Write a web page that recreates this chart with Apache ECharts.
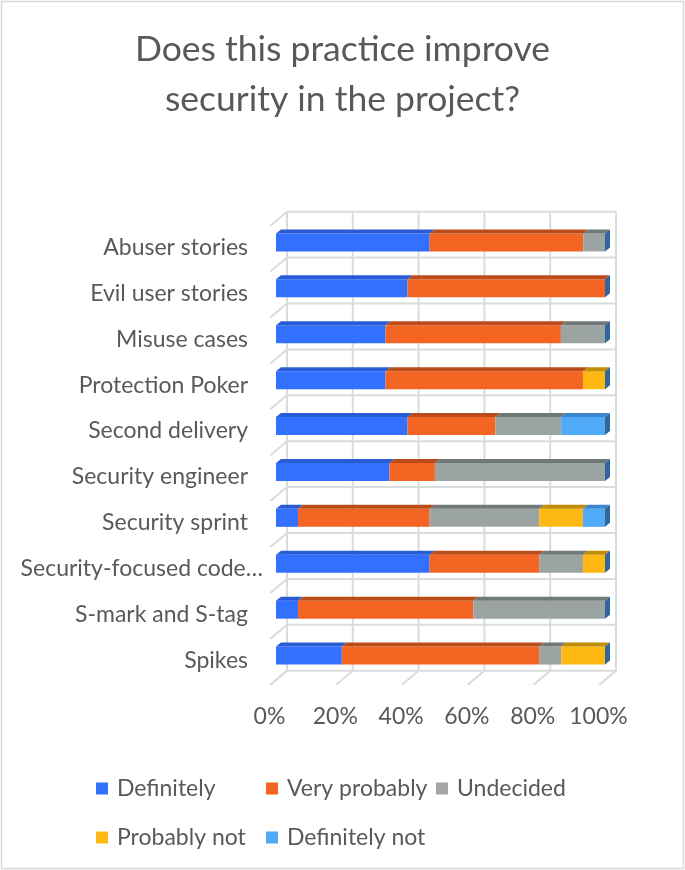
<!DOCTYPE html>
<html>
<head>
<meta charset="utf-8">
<script src="https://cdn.jsdelivr.net/npm/echarts@6/dist/echarts.min.js"></script>
<style>html,body{margin:0;padding:0;background:#fff;}#c{width:685px;height:870px;}</style>
</head>
<body>
<div id="c"></div>
<script>
// ---- data ----
const categories = ['Abuser stories','Evil user stories','Misuse cases','Protection Poker','Second delivery','Security engineer','Security sprint','Security-focused code…','S-mark and S-tag','Spikes'];
const seriesNames = ['Definitely','Very probably','Undecided','Probably not','Definitely not'];
const definitely    = [46.7, 40.0, 33.3, 33.3, 40.0, 34.5,  6.7, 46.7,  6.7, 20.0];
const veryProbably  = [46.7, 60.0, 53.3, 60.0, 26.7, 13.8, 40.0, 33.3, 53.3, 60.0];
const undecided     = [ 6.6,  0.0, 13.4,  0.0, 20.0, 51.7, 33.3, 13.3, 40.0,  6.7];
const probablyNot   = [ 0.0,  0.0,  0.0,  6.7,  0.0,  0.0, 13.3,  6.7,  0.0, 13.3];
const definitelyNot = [ 0.0,  0.0,  0.0,  0.0, 13.3,  0.0,  6.7,  0.0,  0.0,  0.0];
const tickValues = [0, 20, 40, 60, 80, 100];

// ---- styles ----
const FONT = 'Lato';
const TXT = '#595959';
const frontColors = ['#3370FF','#F46524','#9BA4A2','#FDB813','#4FAAF7'];
const topColors   = ['#2A5BD6','#BA4C19','#6F7977','#C18C00','#3A86CC'];
const legendColors = ['#3370FF','#F46524','#A5A5A5','#FDB813','#4FAAF7'];
const capColor = '#2F679B';
const gridColor = '#D8DDDB';
const BX = 11, BY = -7.8;      // back plane offset from bar front
const WX = -16.7, WY = 14;     // wall / floor depth
const TDX = 5, TDY = 4;        // bar top depth

const allSeries = [definitely, veryProbably, undecided, probablyNot, definitelyNot];

const chart = echarts.init(document.getElementById('c'), null, {renderer: 'canvas'});

const barSeries = seriesNames.map((n, s) => ({
  name: n, type: 'bar', stack: 'total', barWidth: 18,
  data: allSeries[s], itemStyle: {color: frontColors[s]}, z: 3,
  emphasis: {disabled: true}, animation: false
}));

const decor = {
  type: 'custom', name: 'decor', z: 1, silent: true, animation: false,
  data: [[0, 0]],
  renderItem: function (params, api) {
    const band = api.size([0, 1])[1];
    const c0 = api.coord([0, 0]);
    const topFront = c0[1] - band / 2;
    const x0 = api.coord([0, 0])[0] + BX;
    const x1 = api.coord([100, 0])[0] + BX;
    const topBack = topFront + BY;
    const botBack = topBack + band * categories.length;
    const ch = [];
    const st = {stroke: gridColor, lineWidth: 2, fill: null};
    for (let k = 0; k <= categories.length; k++) {
      const yb = topBack + k * band;
      ch.push({type: 'line', shape: {x1: x0, y1: yb, x2: x1, y2: yb}, style: st});
      ch.push({type: 'line', shape: {x1: x0, y1: yb, x2: x0 + WX, y2: yb + WY}, style: st});
    }
    tickValues.forEach(t => {
      const x = api.coord([t, 0])[0] + BX;
      ch.push({type: 'line', shape: {x1: x, y1: topBack, x2: x, y2: botBack}, style: st});
      ch.push({type: 'line', shape: {x1: x, y1: botBack, x2: x + WX, y2: botBack + WY}, style: st});
    });
    return {type: 'group', children: ch};
  }
};

const tops = {
  type: 'custom', name: 'tops', z: 4, silent: true, animation: false,
  data: categories.map((c, i) => [0, i]),
  renderItem: function (params, api) {
    const i = api.value(1);
    const barH = 18;
    let cum = 0;
    const ch = [];
    let yt = 0;
    allSeries.forEach((arr, s) => {
      const v = arr[i];
      const p0 = api.coord([cum, i]);
      yt = p0[1] - barH / 2;
      if (v > 0) {
        const p1 = api.coord([cum + v, i]);
        ch.push({type: 'polygon', shape: {points: [[p0[0], yt], [p1[0], yt], [p1[0] + TDX, yt - TDY], [p0[0] + TDX, yt - TDY]]}, style: {fill: topColors[s]}});
        cum += v;
      }
    });
    const pe = api.coord([cum, i]);
    ch.push({type: 'polygon', shape: {points: [[pe[0], yt], [pe[0] + TDX, yt - TDY], [pe[0] + TDX, yt + barH - TDY], [pe[0], yt + barH]]}, style: {fill: capColor}});
    return {type: 'group', children: ch};
  }
};

const legendPos = [[91, 772], [261, 772], [431, 772], [91, 821], [261, 821]];
const legends = seriesNames.map((n, s) => ({
  left: legendPos[s][0], top: legendPos[s][1],
  data: [{name: n, itemStyle: {color: legendColors[s]}}],
  icon: 'rect', itemWidth: 12, itemHeight: 12, selectedMode: false,
  textStyle: {fontFamily: FONT, fontSize: 23, color: TXT, lineHeight: 23, padding: [0, 0, 0, 4]}
}));

chart.setOption({
  backgroundColor: '#ffffff',
  animation: false,
  title: {
    text: 'Does this practice improve\nsecurity in the project?',
    left: 'center', top: 20,
    textStyle: {fontFamily: FONT, fontSize: 35.5, fontWeight: 'normal', color: TXT, lineHeight: 50}
  },
  legend: legends,
  grid: [
    {left: 276, right: 80, top: 219.5, bottom: 191.5, containLabel: false},
    {left: 276, right: 80, top: 224.5, bottom: 186.5, containLabel: false}
  ],
  xAxis: [{
    type: 'value', min: 0, max: 100, interval: 20, gridIndex: 0,
    axisLine: {show: false}, axisTick: {show: false}, splitLine: {show: false},
    axisLabel: {formatter: '{value}%', fontFamily: FONT, fontSize: 23, color: TXT, margin: 27, padding: [0, 13, 0, 0]}
  }, {
    type: 'value', min: 0, max: 100, gridIndex: 1, show: false
  }],
  yAxis: [{
    type: 'category', data: categories, inverse: true, gridIndex: 0,
    axisLine: {show: false}, axisTick: {show: false}, splitLine: {show: false},
    axisLabel: {show: false}
  }, {
    type: 'category', data: categories, inverse: true, gridIndex: 1,
    axisLine: {show: false}, axisTick: {show: false}, splitLine: {show: false},
    axisLabel: {
      fontFamily: FONT, fontSize: 23, color: TXT, margin: 28,
      formatter: function (v) { return v === categories[7] ? '{s|' + v + '}' : v; },
      rich: {s: {fontFamily: FONT, fontSize: 23, color: TXT, padding: [0, -15, 0, 0]}}
    }
  }],
  graphic: [{
    type: 'rect', shape: {x: 1.5, y: 1.5, width: 682, height: 867}, silent: true, z: -10,
    style: {fill: null, stroke: '#D9D9D9', lineWidth: 1.5}
  }],
  series: [decor].concat(barSeries, [tops])
});
</script>
</body>
</html>
